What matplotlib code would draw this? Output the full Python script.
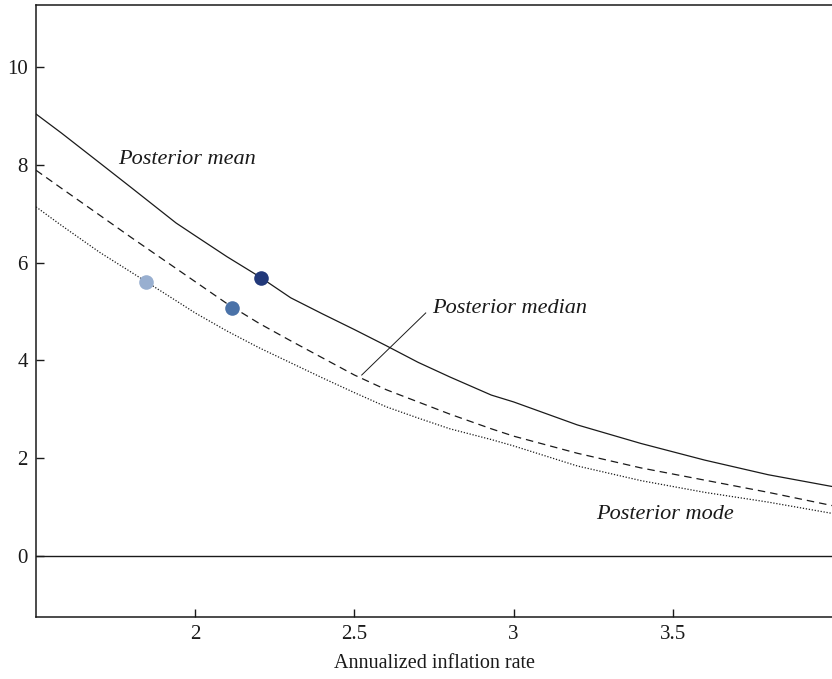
import matplotlib
matplotlib.use("Agg")
import matplotlib.pyplot as plt

# Data
x_grid = [1.5, 1.58, 1.7, 1.8, 1.94, 2.0, 2.1, 2.2, 2.3, 2.4, 2.5, 2.6, 2.7, 2.8, 2.93, 3.0, 3.2, 3.4, 3.6, 3.8, 4.0]
post_mean = [9.04, 8.65, 8.04, 7.53, 6.81, 6.55, 6.12, 5.72, 5.28, 4.95, 4.63, 4.3, 3.96, 3.66, 3.29, 3.15, 2.68, 2.3, 1.96, 1.66, 1.42]
post_median = [7.89, 7.52, 6.97, 6.51, 5.88, 5.61, 5.16, 4.76, 4.4, 4.05, 3.7, 3.4, 3.15, 2.9, 2.6, 2.45, 2.1, 1.8, 1.55, 1.3, 1.03]
post_mode = [7.14, 6.76, 6.21, 5.8, 5.22, 4.97, 4.6, 4.26, 3.95, 3.64, 3.34, 3.05, 2.82, 2.6, 2.38, 2.25, 1.84, 1.54, 1.3, 1.1, 0.87]
dots_x = [1.846, 2.116, 2.207]
dots_y = [5.6, 5.07, 5.69]
dot_colors = ["#98AFD0", "#4A72A8", "#22397A"]
x_ticks = [2, 2.5, 3, 3.5]
x_ticklabels = ["2", "2.5", "3", "3.5"]
y_ticks = [0, 2, 4, 6, 8, 10]
y_ticklabels = ["0", "2", "4", "6", "8", "10"]

plt.rcParams['font.family'] = ['Liberation Serif', 'DejaVu Serif']

fig = plt.figure(figsize=(8.32, 6.79), dpi=100)
ax = fig.add_axes([36/832, 62/679, 1 - 36/832, (617-5)/679])

ax.plot(x_grid, post_mean, color="#1a1a1a", lw=0.9)
ax.plot(x_grid, post_median, color="#1a1a1a", lw=0.9, dashes=(6, 4))
ax.plot(x_grid, post_mode, color="#1a1a1a", lw=0.9, dashes=(1, 1.4))
ax.axhline(0, color="#1a1a1a", lw=1.0)

for xd, yd, c in zip(dots_x, dots_y, dot_colors):
    ax.plot([xd], [yd], "o", color=c, markersize=10.5, markeredgewidth=0, zorder=5)

ax.text(1.975, 8.1, "Posterior mean", style="italic", fontsize=16, ha="center", va="center", color="#1a1a1a")
ax.text(2.743, 5.06, "Posterior median", style="italic", fontsize=16, ha="left", va="center", color="#1a1a1a")
ax.plot([2.523, 2.724], [3.70, 4.97], color="#1a1a1a", lw=0.7)
ax.text(3.476, 0.84, "Posterior mode", style="italic", fontsize=16, ha="center", va="center", color="#1a1a1a")

ax.set_xlim(1.5, 4.0)
ax.set_ylim(-1.25, 11.27)
ax.set_xticks(x_ticks)
ax.set_xticklabels(x_ticklabels)
ax.set_yticks(y_ticks)
ax.set_yticklabels(y_ticklabels)
ax.tick_params(direction="in", length=6, width=1.0, labelsize=15, colors="#1a1a1a", pad=6)
ax.set_xlabel("Annualized inflation rate", fontsize=14.5, color="#1a1a1a", labelpad=7)
ax.spines["right"].set_visible(False)
for s in ["left", "bottom", "top"]:
    ax.spines[s].set_linewidth(1.1)
    ax.spines[s].set_color("#1a1a1a")

fig.savefig("out.png", dpi=100)
